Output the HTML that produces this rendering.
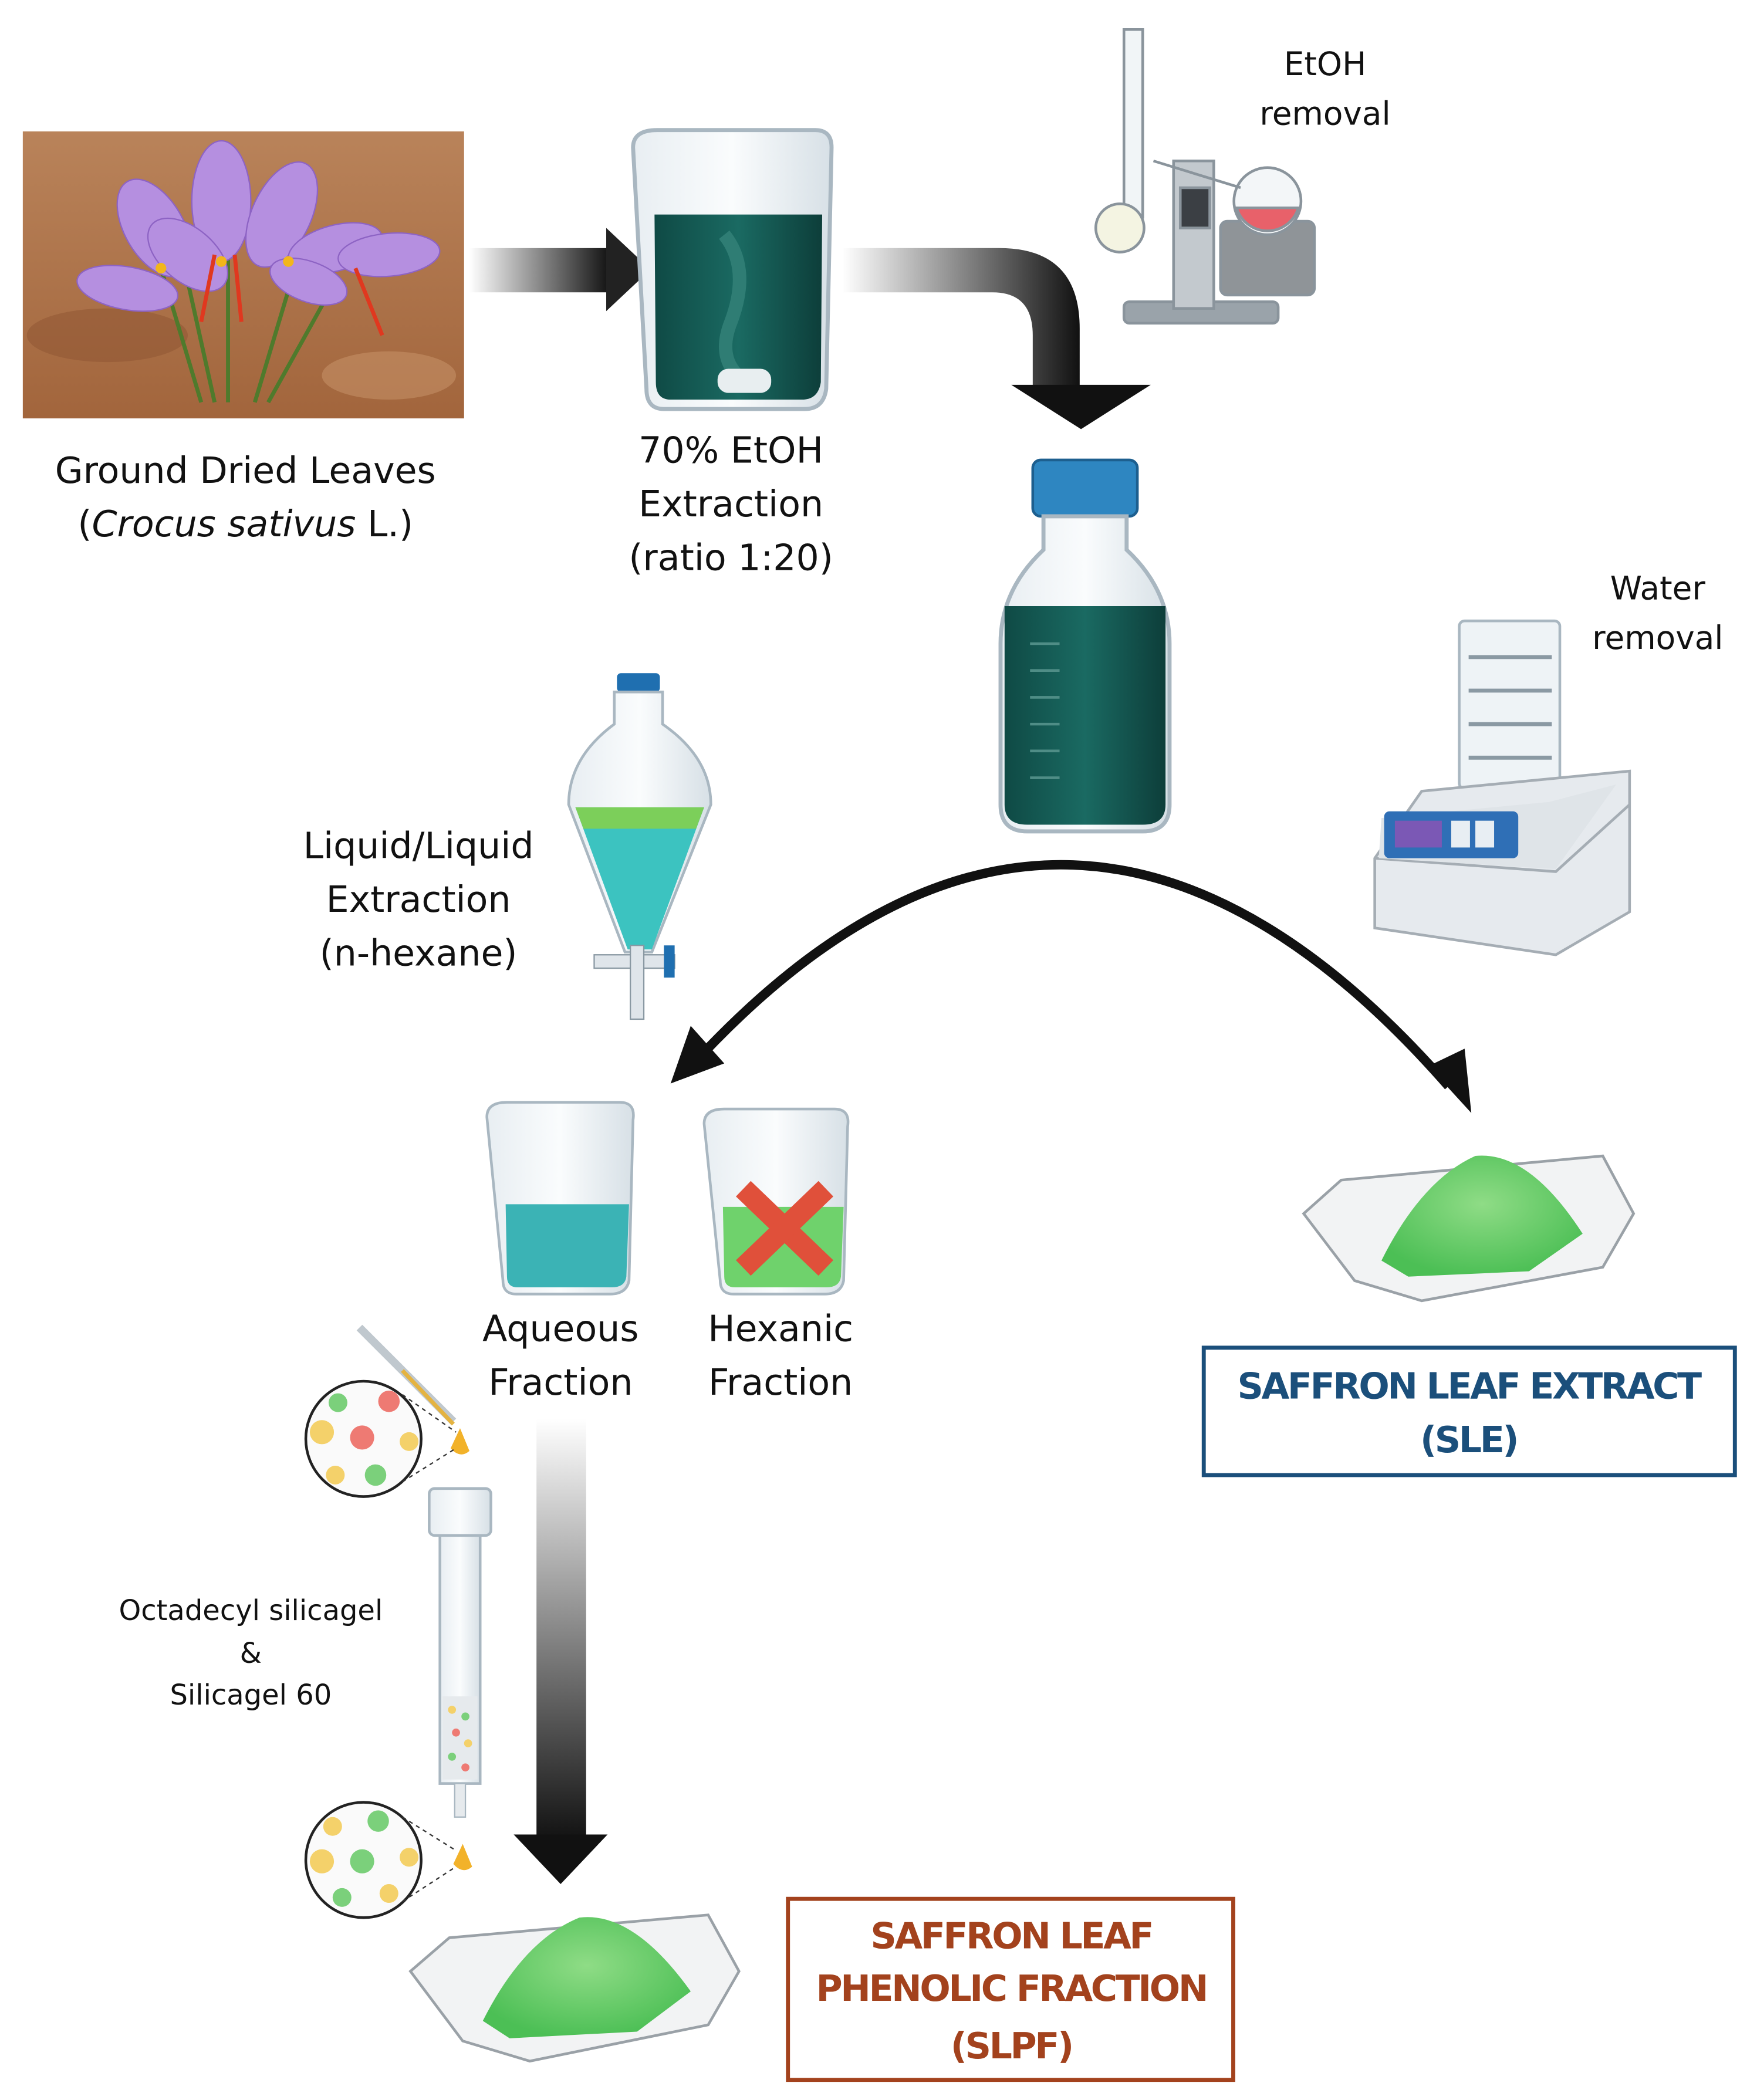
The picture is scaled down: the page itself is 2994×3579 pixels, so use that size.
<!DOCTYPE html>
<html><head><meta charset="utf-8"><style>
html,body{margin:0;padding:0;background:#fff;}
svg{display:block}
text{font-family:"DejaVu Sans","Liberation Sans",sans-serif;fill:#111}
</style></head><body>
<svg width="2994" height="3579" viewBox="0 0 1310 1566" preserveAspectRatio="none" xmlns="http://www.w3.org/2000/svg">
<defs>
<linearGradient id="gh" x1="0" x2="1" y1="0" y2="0"><stop offset="0" stop-color="#fff"/><stop offset="1" stop-color="#111"/></linearGradient>
<linearGradient id="gv" x1="0" x2="0" y1="0" y2="1"><stop offset="0" stop-color="#fff"/><stop offset="1" stop-color="#111"/></linearGradient>
<linearGradient id="soil" x1="0" x2="0" y1="0" y2="1"><stop offset="0" stop-color="#b9835a"/><stop offset="1" stop-color="#a2653c"/></linearGradient>
<linearGradient id="liq" x1="0" x2="1"><stop offset="0" stop-color="#0f4a45"/><stop offset=".5" stop-color="#1a6a62"/><stop offset="1" stop-color="#0d3e3a"/></linearGradient>
<linearGradient id="glass" x1="0" x2="1"><stop offset="0" stop-color="#e8eef2"/><stop offset=".5" stop-color="#fafcfd"/><stop offset="1" stop-color="#d7e0e6"/></linearGradient>
<radialGradient id="pw" cx=".5" cy=".4" r=".6"><stop offset="0" stop-color="#8fdc86"/><stop offset="1" stop-color="#4cbf55"/></radialGradient>
</defs>

<!-- crocus photo -->
<rect x="17" y="98" width="329" height="214" fill="url(#soil)"/>
<ellipse cx="80" cy="250" rx="60" ry="20" fill="#8e5431" opacity=".5"/>
<ellipse cx="290" cy="280" rx="50" ry="18" fill="#c59066" opacity=".6"/>
<g stroke="#4f7a2c" stroke-width="3">
<line x1="150" y1="300" x2="120" y2="200"/><line x1="170" y1="300" x2="170" y2="190"/><line x1="190" y1="300" x2="220" y2="200"/><line x1="160" y1="300" x2="140" y2="210"/><line x1="200" y1="300" x2="250" y2="210"/></g>
<g fill="#b58fe0" stroke="#8d63c4" stroke-width="1">
<ellipse cx="115" cy="170" rx="22" ry="40" transform="rotate(-30 115 170)"/>
<ellipse cx="95" cy="215" rx="38" ry="16" transform="rotate(10 95 215)"/>
<ellipse cx="165" cy="150" rx="22" ry="45"/>
<ellipse cx="210" cy="160" rx="22" ry="42" transform="rotate(25 210 160)"/>
<ellipse cx="250" cy="185" rx="36" ry="17" transform="rotate(-15 250 185)"/>
<ellipse cx="290" cy="190" rx="38" ry="16" transform="rotate(-5 290 190)"/>
<ellipse cx="140" cy="190" rx="20" ry="35" transform="rotate(-50 140 190)"/>
<ellipse cx="230" cy="210" rx="30" ry="15" transform="rotate(20 230 210)"/>
</g>
<g stroke="#e0381f" stroke-width="3" fill="none"><path d="M160 190 L150 240"/><path d="M175 190 L180 240"/><path d="M265 200 L285 250"/></g>
<g fill="#f2b61b"><circle cx="165" cy="195" r="4"/><circle cx="215" cy="195" r="4"/><circle cx="120" cy="200" r="4"/></g>

<text x="183" y="360" font-size="27" text-anchor="middle">Ground Dried Leaves</text>
<text x="183" y="400" font-size="27" text-anchor="middle">(<tspan font-style="italic">Crocus sativus</tspan> L.)</text>

<!-- arrow 1 -->
<rect x="350" y="185" width="105" height="33" fill="url(#gh)"/>
<polygon points="452,170 485,201 452,232" fill="#222"/>

<!-- beaker -->
<path d="M472 110 Q472 97 490 97 L608 97 Q620 97 620 110 L616 290 Q614 305 600 305 L495 305 Q482 305 482 290 Z" fill="url(#glass)" stroke="#a9b7c1" stroke-width="3"/>
<path d="M488 160 L613 160 L612 285 Q610 298 598 298 L500 298 Q489 298 489 285 Z" fill="url(#liq)"/>
<path d="M540 175 Q560 200 545 240 Q535 265 550 280" stroke="#2f7d74" stroke-width="10" fill="none"/>
<rect x="535" y="275" width="40" height="18" rx="8" fill="#e8eef0"/>

<text x="545" y="345" font-size="27" text-anchor="middle">70% EtOH</text>
<text x="545" y="385" font-size="27" text-anchor="middle">Extraction</text>
<text x="545" y="425" font-size="27" text-anchor="middle">(ratio  1:20)</text>

<!-- curved arrow 2 -->
<path d="M628 185 L745 185 Q805 185 805 245 L805 292 L770 292 L770 250 Q770 218 740 218 L628 218 Z" fill="url(#gh)"/>
<polygon points="754,287 858,287 806,320" fill="#111"/>

<!-- rotavap -->
<g stroke="#8a949c" stroke-width="2" fill="#dde3e8">
<rect x="838" y="225" width="115" height="16" rx="4" fill="#9aa3aa"/>
<rect x="875" y="120" width="30" height="110" fill="#c3c9ce"/>
<rect x="880" y="140" width="22" height="30" fill="#3b3f44"/>
<rect x="838" y="22" width="14" height="140" fill="#f1f5f7"/>
<circle cx="835" cy="170" r="18" fill="#f4f4e2"/>
<rect x="910" y="165" width="70" height="55" rx="5" fill="#8f9498"/>
<circle cx="945" cy="150" r="25" fill="#f3f6f8"/>
<path d="M922 155 A24 24 0 0 0 968 155 Z" fill="#e8616a"/>
<line x1="860" y1="120" x2="925" y2="140"/>
</g>
<text x="988" y="56" font-size="24" text-anchor="middle">EtOH</text>
<text x="988" y="93" font-size="24" text-anchor="middle">removal</text>

<!-- bottle -->
<rect x="770" y="343" width="78" height="42" rx="6" fill="#2e86c1" stroke="#1d5f8f" stroke-width="2"/>
<path d="M778 385 L840 385 L840 410 Q872 440 872 480 L872 600 Q872 620 852 620 L766 620 Q746 620 746 600 L746 480 Q746 440 778 410 Z" fill="url(#glass)" stroke="#a9b7c1" stroke-width="3"/>
<path d="M749 452 L869 452 L869 600 Q869 615 852 615 L766 615 Q749 615 749 600 Z" fill="url(#liq)"/>
<g stroke="#4f8d86" stroke-width="2"><line x1="768" y1="480" x2="790" y2="480"/><line x1="768" y1="500" x2="790" y2="500"/><line x1="768" y1="520" x2="790" y2="520"/><line x1="768" y1="540" x2="790" y2="540"/><line x1="768" y1="560" x2="790" y2="560"/><line x1="768" y1="580" x2="790" y2="580"/></g>

<text x="1236" y="447" font-size="24" text-anchor="middle">Water</text>
<text x="1236" y="484" font-size="24" text-anchor="middle">removal</text>

<!-- freeze dryer -->
<rect x="1088" y="463" width="75" height="125" rx="4" fill="#eef3f6" stroke="#a9b7c1" stroke-width="2"/>
<g stroke="#8a99a3" stroke-width="3"><line x1="1095" y1="490" x2="1157" y2="490"/><line x1="1095" y1="515" x2="1157" y2="515"/><line x1="1095" y1="540" x2="1157" y2="540"/><line x1="1095" y1="565" x2="1157" y2="565"/></g>
<path d="M1025 640 L1060 590 L1215 575 L1215 680 L1160 712 L1025 692 Z" fill="#e6eaee" stroke="#a5adb4" stroke-width="2"/>
<path d="M1025 640 L1160 650 L1215 600" fill="none" stroke="#a5adb4" stroke-width="2"/>
<path d="M1030 610 L1155 598 L1205 585 L1160 648 L1028 640 Z" fill="#dfe4e8"/>
<rect x="1032" y="605" width="100" height="35" rx="4" fill="#2f6fb6"/>
<rect x="1040" y="612" width="35" height="20" fill="#7b58b5"/>
<rect x="1082" y="612" width="14" height="20" fill="#e8eef3"/><rect x="1100" y="612" width="14" height="20" fill="#e8eef3"/>

<!-- separatory funnel -->
<rect x="460" y="502" width="32" height="14" rx="3" fill="#1f6fb0"/>
<path d="M458 516 L494 516 L494 540 Q530 565 530 600 L486 710 L466 710 L424 600 Q424 565 458 540 Z" fill="url(#glass)" stroke="#a9b7c1" stroke-width="2"/>
<path d="M429 602 L525 602 L486 708 L468 708 Z" fill="#3cc3c0"/>
<path d="M429 602 L525 602 L519 618 L435 618 Z" fill="#7ccf5a"/>
<rect x="443" y="712" width="60" height="10" fill="#dfe5ea" stroke="#8a99a3"/>
<rect x="470" y="705" width="10" height="55" fill="#dfe5ea" stroke="#8a99a3"/>
<rect x="495" y="705" width="8" height="24" fill="#1f6fb0"/>

<text x="312" y="640" font-size="27" text-anchor="middle">Liquid/Liquid</text>
<text x="312" y="680" font-size="27" text-anchor="middle">Extraction</text>
<text x="312" y="720" font-size="27" text-anchor="middle">(n-hexane)</text>

<!-- arc arrow -->
<path d="M520 790 Q800 490 1080 810" fill="none" stroke="#111" stroke-width="7"/>
<polygon points="500,808 515,765 540,793" fill="#111"/>
<polygon points="1097,830 1065,795 1092,782" fill="#111"/>

<!-- aqueous beaker -->
<path d="M363 833 Q363 822 378 822 L462 822 Q474 822 472 835 L469 955 Q467 965 455 965 L385 965 Q375 965 375 955 Z" fill="url(#glass)" stroke="#a9b7c1" stroke-width="2"/>
<path d="M377 898 L469 898 L467 952 Q466 960 456 960 L386 960 Q378 960 378 952 Z" fill="#3bb3b5"/>
<!-- hexanic beaker -->
<path d="M525 838 Q525 827 540 827 L622 827 Q634 827 632 840 L629 955 Q627 965 615 965 L547 965 Q537 965 537 955 Z" fill="url(#glass)" stroke="#a9b7c1" stroke-width="2"/>
<path d="M539 900 L629 900 L627 952 Q626 960 616 960 L548 960 Q540 960 540 952 Z" fill="#6fd26c"/>
<g stroke="#e0503a" stroke-width="16" stroke-linecap="square"><line x1="560" y1="892" x2="610" y2="940"/><line x1="610" y1="892" x2="560" y2="940"/></g>

<text x="418" y="1000" font-size="27" text-anchor="middle">Aqueous</text>
<text x="418" y="1040" font-size="27" text-anchor="middle">Fraction</text>
<text x="582" y="1000" font-size="27" text-anchor="middle">Hexanic</text>
<text x="582" y="1040" font-size="27" text-anchor="middle">Fraction</text>

<!-- right tray -->
<path d="M972 905 L1000 880 L1195 862 L1218 905 L1195 945 L1060 970 L1010 955 Z" fill="#f2f3f4" stroke="#9aa1a7" stroke-width="2"/>
<path d="M1030 940 Q1060 880 1100 862 Q1140 858 1180 920 L1140 948 L1050 952 Z" fill="url(#pw)"/>

<!-- SLE box -->
<rect x="897.5" y="1005" width="396" height="95" fill="#fff" stroke="#1b4f7b" stroke-width="3"/>
<text x="1095" y="1043" font-size="27" font-weight="bold" text-anchor="middle" fill="#1b4f7b" style="fill:#1b4f7b;letter-spacing:-1.5px">SAFFRON LEAF EXTRACT</text>
<text x="1095" y="1083" font-size="27" font-weight="bold" text-anchor="middle" style="fill:#1b4f7b;letter-spacing:-1.5px">(SLE)</text>

<!-- vertical arrow -->
<rect x="400" y="1058" width="37" height="315" fill="url(#gv)"/>
<polygon points="383,1368 453,1368 418,1405" fill="#111"/>

<!-- pipette + circles -->
<line x1="268" y1="990" x2="338" y2="1060" stroke="#c0c8ce" stroke-width="6"/>
<line x1="300" y1="1022" x2="338" y2="1062" stroke="#e4b341" stroke-width="3"/>
<path d="M343 1065 L350 1082 Q343 1088 336 1080 Z" fill="#f2b22a"/>
<circle cx="271" cy="1073" r="43" fill="#fafafa" stroke="#222" stroke-width="2"/>
<g><circle cx="240" cy="1068" r="9" fill="#f4d16a"/><circle cx="270" cy="1072" r="9" fill="#ee7a73"/><circle cx="290" cy="1045" r="8" fill="#ee7a73"/><circle cx="280" cy="1100" r="8" fill="#7bd07b"/><circle cx="252" cy="1046" r="7" fill="#7bd07b"/><circle cx="305" cy="1075" r="7" fill="#f4d16a"/><circle cx="250" cy="1100" r="7" fill="#f4d16a"/></g>
<line x1="300" y1="1040" x2="340" y2="1068" stroke="#333" stroke-dasharray="3 3"/><line x1="300" y1="1105" x2="340" y2="1080" stroke="#333" stroke-dasharray="3 3"/>

<!-- column -->
<rect x="320" y="1110" width="46" height="35" rx="4" fill="url(#glass)" stroke="#a9b7c1" stroke-width="2"/>
<rect x="328" y="1145" width="30" height="185" fill="url(#glass)" stroke="#a9b7c1" stroke-width="2"/>
<rect x="330" y="1265" width="26" height="62" fill="#e6eaed"/>
<g><circle cx="337" cy="1275" r="3" fill="#f4d16a"/><circle cx="347" cy="1280" r="3" fill="#7bd07b"/><circle cx="340" cy="1292" r="3" fill="#ee7a73"/><circle cx="349" cy="1300" r="3" fill="#f4d16a"/><circle cx="337" cy="1310" r="3" fill="#7bd07b"/><circle cx="347" cy="1318" r="3" fill="#ee7a73"/></g>
<rect x="339" y="1330" width="8" height="25" fill="#e6eaed" stroke="#a9b7c1"/>

<text x="187" y="1208" font-size="21" text-anchor="middle">Octadecyl silicagel</text>
<text x="187" y="1240" font-size="21" text-anchor="middle">&amp;</text>
<text x="187" y="1271" font-size="21" text-anchor="middle">Silicagel 60</text>

<circle cx="271" cy="1387" r="43" fill="#fafafa" stroke="#222" stroke-width="2"/>
<g><circle cx="240" cy="1388" r="9" fill="#f4d16a"/><circle cx="270" cy="1388" r="9" fill="#7bd07b"/><circle cx="282" cy="1358" r="8" fill="#7bd07b"/><circle cx="248" cy="1362" r="7" fill="#f4d16a"/><circle cx="305" cy="1385" r="7" fill="#f4d16a"/><circle cx="255" cy="1415" r="7" fill="#7bd07b"/><circle cx="290" cy="1412" r="7" fill="#f4d16a"/></g>
<path d="M345 1375 L352 1392 Q345 1398 338 1390 Z" fill="#f2b22a"/>
<line x1="300" y1="1355" x2="340" y2="1380" stroke="#333" stroke-dasharray="3 3"/><line x1="300" y1="1418" x2="340" y2="1392" stroke="#333" stroke-dasharray="3 3"/>

<!-- bottom tray -->
<path d="M306 1470 L335 1445 L528 1428 L551 1470 L528 1510 L395 1537 L345 1522 Z" fill="#f2f3f4" stroke="#9aa1a7" stroke-width="2"/>
<path d="M360 1507 Q390 1447 432 1430 Q472 1425 515 1485 L475 1515 L380 1520 Z" fill="url(#pw)"/>

<!-- SLPF box -->
<rect x="587.5" y="1416" width="332" height="135" fill="#fff" stroke="#a3421d" stroke-width="3"/>
<text x="754" y="1453" font-size="27" font-weight="bold" text-anchor="middle" style="fill:#a3421d;letter-spacing:-1.5px">SAFFRON LEAF</text>
<text x="754" y="1492" font-size="27" font-weight="bold" text-anchor="middle" style="fill:#a3421d;letter-spacing:-1.5px">PHENOLIC FRACTION</text>
<text x="754" y="1535" font-size="27" font-weight="bold" text-anchor="middle" style="fill:#a3421d;letter-spacing:-1.5px">(SLPF)</text>
</svg>
</body></html>
